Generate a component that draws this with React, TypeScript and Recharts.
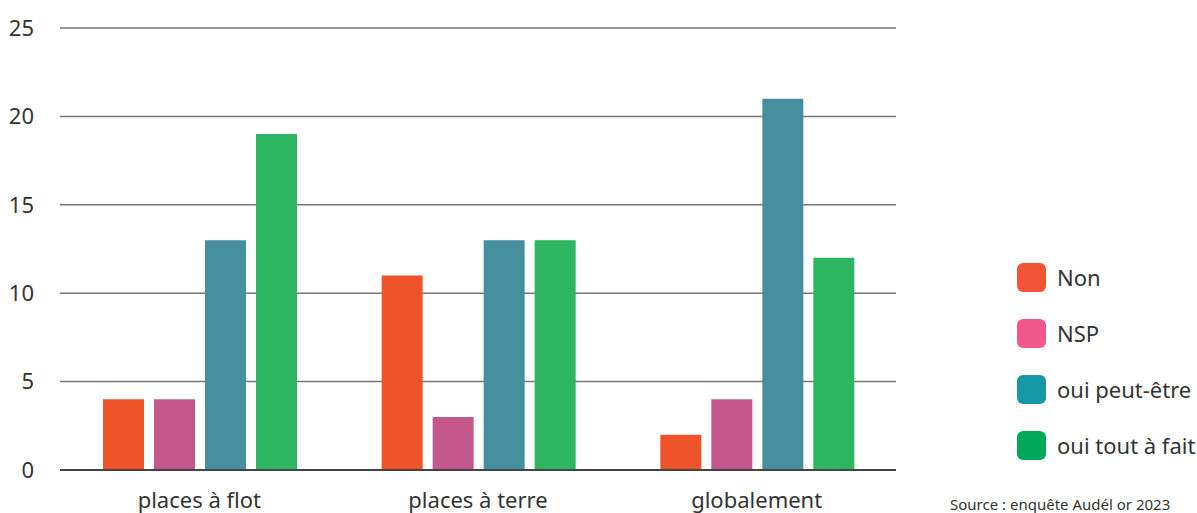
import { BarChart, Bar, XAxis, YAxis, CartesianGrid } from "recharts";

const categories = ["places à flot", "places à terre", "globalement"];
const non = [4, 11, 2];
const nsp = [4, 3, 4];
const ouiPeutEtre = [13, 13, 21];
const ouiToutAFait = [19, 13, 12];
const yTicks = [0, 5, 10, 15, 20, 25];

const series = [
  { key: "non", label: "Non", bar: "#EE5329", legend: "#F15535" },
  { key: "nsp", label: "NSP", bar: "#C5588A", legend: "#F0588C" },
  { key: "peut", label: "oui peut-être", bar: "#468F9E", legend: "#1597A5" },
  { key: "fait", label: "oui tout à fait", bar: "#2DB562", legend: "#00A85A" },
];

const data = categories.map((c, i) => ({
  name: c,
  non: non[i],
  nsp: nsp[i],
  peut: ouiPeutEtre[i],
  fait: ouiToutAFait[i],
}));

const font = "'Noto Sans', sans-serif";

export default function App() {
  return (
    <div style={{ position: "absolute", top: 0, left: 0, width: 1197, height: 513, fontFamily: font, overflow: "hidden", background: "#fff" }}>
      <BarChart
        width={1197}
        height={513}
        data={data}
        margin={{ top: 28, right: 301, bottom: 13, left: 0 }}
        barCategoryGap={43}
        barGap={10}
      >
        <CartesianGrid vertical={false} stroke="#777" strokeWidth={1.5} />
        <XAxis
          dataKey="name"
          height={30}
          tickLine={false}
          tickSize={0}
          tickMargin={22}
          axisLine={{ stroke: "#444", strokeWidth: 2 }}
          tick={{ fill: "#333", fontSize: 22, fontFamily: font }}
        />
        <YAxis
          width={60}
          domain={[0, 25]}
          ticks={yTicks}
          axisLine={false}
          tickLine={false}
          tickSize={0}
          tickMargin={26}
          tick={{ fill: "#333", fontSize: 22, fontFamily: font }}
        />
        {series.map((s) => (
          <Bar key={s.key} dataKey={s.key} fill={s.bar} isAnimationActive={false} />
        ))}
      </BarChart>
      <div style={{ position: "absolute", left: 1017, top: 249 }}>
        {series.map((s) => (
          <div key={s.key} style={{ display: "flex", alignItems: "center", height: 56 }}>
            <div style={{ width: 29, height: 29, borderRadius: 6, background: s.legend, marginRight: 11 }} />
            <span style={{ fontSize: 22, color: "#333", whiteSpace: "nowrap" }}>{s.label}</span>
          </div>
        ))}
      </div>
      <div style={{ position: "absolute", left: 950, top: 494, fontSize: 15, color: "#333", whiteSpace: "nowrap" }}>
        Source : enquête Audél or 2023
      </div>
    </div>
  );
}
